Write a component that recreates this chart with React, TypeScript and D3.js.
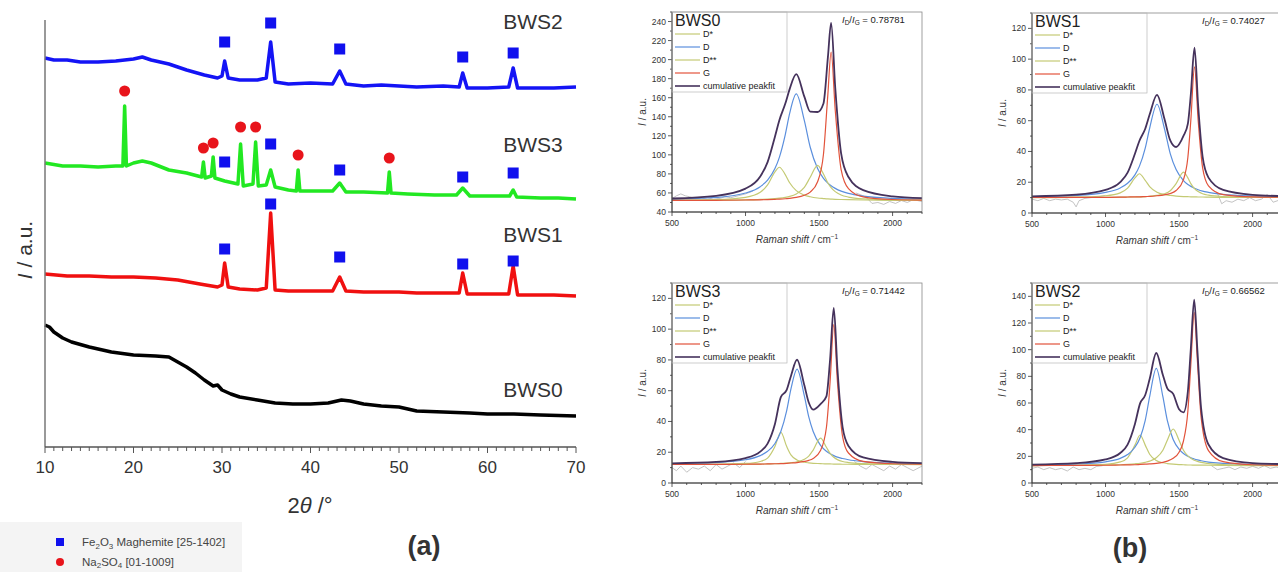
import React from "react";
import * as d3 from "d3";

// ---------- XRD (panel a): [2theta, intensity a.u. incl. stack offset] ----------
const bws2Xrd = [
  [10, 389], [11, 387], [12.5, 387], [14, 385], [16, 385], [18, 386], [20, 388], [21, 390], [22, 387],
  [24, 383], [26, 377], [28, 372], [29.5, 369], [30, 371], [30.3, 386], [30.7, 369], [32, 367], [34, 367],
  [35, 369], [35.5, 405], [36, 365], [37.5, 363], [40, 364], [42.5, 363], [43.3, 376], [44, 363], [46, 361],
  [48, 362], [50, 361], [52, 360], [55, 361], [56.8, 360], [57.2, 374], [57.7, 359], [60, 359], [62.4, 360],
  [62.9, 379], [63.4, 359], [65, 359], [67.5, 359], [70, 360],
];
const bws3Xrd = [
  [10, 284], [12, 281], [14, 281], [16, 280], [18, 281], [18.8, 281], [19, 341], [19.2, 281], [20, 284],
  [21, 286], [22, 284], [24, 277], [26, 274], [27.7, 270], [27.9, 285], [28.1, 269], [28.8, 271], [29, 290],
  [29.2, 269], [30.3, 266], [31.8, 263], [32.1, 303], [32.4, 261], [33.5, 263], [33.8, 305], [34.1, 261],
  [35, 262], [35.5, 277], [36, 260], [37.5, 257], [38.4, 256], [38.6, 277], [38.8, 256], [40, 256],
  [42.5, 256], [43.3, 264], [44, 255], [46, 255], [48.7, 254], [48.9, 275], [49.1, 254], [51, 253],
  [54, 252], [56.5, 252], [57.2, 259], [58, 251], [60, 251], [62.5, 251], [62.9, 257], [63.3, 250],
  [66, 249], [68, 249], [70, 248],
];
const bws1Xrd = [
  [10, 173], [12.5, 171], [15, 171], [17.5, 170], [20, 170], [22.5, 169], [25, 167], [27.5, 163],
  [29.5, 160], [30, 162], [30.3, 184], [30.7, 160], [32, 158], [34, 157], [35, 159], [35.5, 234], [36, 157],
  [37.5, 156], [40, 156], [42.5, 156], [43.3, 170], [44, 156], [46, 155], [48, 155], [50, 155], [52, 154],
  [55, 154], [56.8, 154], [57.2, 174], [57.7, 153], [60, 153], [62.4, 153], [62.9, 181], [63.4, 152],
  [65, 152], [67.5, 152], [70, 151],
];
const bws0Xrd = [
  [10, 122], [10.5, 120], [11, 115], [12, 109], [13, 105], [15, 100], [17.5, 95], [20, 92], [22.5, 91],
  [24, 90], [25, 85], [26, 80], [27, 74], [28, 67], [29, 61], [29.5, 62], [30, 57], [31, 53], [32, 50],
  [34, 47], [36, 44], [38, 43], [40, 43], [42, 44], [43.5, 47], [44.5, 46], [46, 43], [48, 41], [50, 40],
  [52, 36], [55, 35], [58, 34], [60, 33], [63, 33], [66, 32], [70, 31],
];

const maghemitePeaks = [30.3, 35.5, 43.3, 57.2, 62.9];
const maghemiteMarkBWS2 = [405, 424, 398, 390, 394];
const maghemiteMarkBWS3 = [285, 303, 277, 270, 274];
const maghemiteMarkBWS1 = [198, 243, 190, 183, 186];
const sulfatePeaks = [19.0, 27.9, 29.0, 32.1, 33.8, 38.6, 48.9];
const sulfateMarkBWS3 = [356, 299, 304, 320, 320, 292, 289];

const xrdSamples = [
  { name: "BWS2", data: bws2Xrd, color: "#1414f5", labelAt: 418 },
  { name: "BWS3", data: bws3Xrd, color: "#22e822", labelAt: 295 },
  { name: "BWS1", data: bws1Xrd, color: "#f01010", labelAt: 205 },
  { name: "BWS0", data: bws0Xrd, color: "#000000", labelAt: 50 },
];
const twoThetaTicks = [10, 20, 30, 40, 50, 60, 70];

// ---------- Raman (panel b) ----------
const shift0 = [500, 800, 1000, 1100, 1150, 1200, 1230, 1270, 1300, 1345, 1400, 1440, 1490, 1530, 1560, 1582, 1610, 1650, 1700, 1800, 2000, 2200];
const bws0DStar = [52.4, 53.0, 55.4, 60.7, 68.4, 82.2, 87.0, 79.3, 70.7, 62.4, 57.7, 56.0, 54.7, 54.1, 53.7, 53.5, 53.3, 53.1, 52.9, 52.6, 52.3, 52.2];
const bws0D = [53.4, 55.3, 59.9, 66.6, 73.5, 85.6, 97.4, 121.0, 143.5, 164.0, 135.9, 108.0, 85.6, 75.4, 70.3, 67.5, 64.8, 61.9, 59.5, 56.7, 54.3, 53.4];
const bws0DStar2 = [52.2, 52.4, 52.7, 53.2, 53.5, 54.0, 54.5, 55.4, 56.4, 59.0, 65.9, 76.5, 89.0, 79.9, 70.5, 65.6, 61.4, 57.9, 55.7, 53.8, 52.7, 52.4];
const bws0G = [52.2, 52.3, 52.6, 52.8, 53.0, 53.3, 53.5, 53.9, 54.4, 55.3, 57.6, 60.9, 71.7, 100.6, 163.8, 208.0, 147.1, 84.6, 64.6, 55.9, 53.1, 52.5];
const bws0Raw = [
  [500, 54], [530, 57], [560, 59], [590, 57], [620, 56], [660, 54], [700, 55], [740, 53], [780, 55], [820, 54],
  [860, 56], [900, 55], [950, 57], [1000, 59], [1050, 62], [1060, NaN],
  [1750, 60], [1800, 57], [1830, 54], [1860, 49], [1900, 50], [1940, 48], [1980, 51], [2020, 49], [2060, 52],
  [2100, 50], [2140, 53], [2200, 51],
];

const shift1 = [500, 800, 1000, 1100, 1150, 1200, 1230, 1270, 1300, 1350, 1400, 1440, 1480, 1530, 1560, 1580, 1605, 1630, 1660, 1700, 1800, 2000, 2200];
const bws1DStar = [10.1, 10.3, 11.2, 13.1, 16.2, 22.8, 25.5, 21.2, 17.2, 13.5, 12.0, 11.4, 11.0, 10.7, 10.6, 10.5, 10.5, 10.4, 10.4, 10.3, 10.2, 10.1, 10.1];
const bws1D = [10.6, 11.4, 13.4, 16.3, 19.3, 24.8, 30.3, 42.2, 55.1, 70.7, 55.1, 38.6, 28.2, 21.1, 18.5, 17.3, 16.1, 15.1, 14.2, 13.4, 12.1, 11.0, 10.6];
const bws1DStar2 = [10.0, 10.1, 10.2, 10.3, 10.3, 10.4, 10.5, 10.7, 10.9, 11.4, 12.5, 14.5, 19.1, 26.6, 22.8, 19.1, 15.8, 13.9, 12.5, 11.6, 10.7, 10.2, 10.1];
const bws1G = [10.1, 10.1, 10.2, 10.3, 10.4, 10.5, 10.5, 10.7, 10.8, 11.2, 11.8, 12.7, 14.6, 21.7, 36.2, 60.2, 95.0, 60.2, 29.5, 17.7, 12.0, 10.5, 10.2];
const bws1Raw = [
  [500, 9], [540, 8], [580, 9.5], [620, 8], [660, 9], [700, 8.5], [740, 9], [780, 7], [800, 4], [820, 8],
  [860, 9.5], [900, 10], [950, 10.5], [1000, 11.5], [1010, NaN],
  [1760, 13], [1790, 6], [1820, 8], [1860, 7], [1900, 9], [1940, 8], [1980, 10], [2020, 8], [2060, 9],
  [2100, 12], [2140, 7], [2200, 9],
];

const shift3 = [500, 800, 1000, 1100, 1150, 1200, 1240, 1280, 1310, 1350, 1400, 1430, 1460, 1510, 1550, 1575, 1600, 1625, 1660, 1700, 1800, 2000, 2200];
const bws3DStar = [12.1, 12.2, 12.7, 14.0, 16.2, 23.7, 33.0, 23.7, 18.1, 15.0, 13.5, 13.1, 12.8, 12.6, 12.4, 12.4, 12.3, 12.3, 12.2, 12.2, 12.1, 12.1, 12.0];
const bws3D = [12.5, 13.3, 15.1, 17.8, 20.6, 25.7, 33.5, 47.1, 61.6, 74.0, 56.6, 43.0, 33.5, 24.4, 20.6, 19.0, 17.8, 16.8, 15.9, 15.1, 13.9, 12.9, 12.5];
const bws3DStar2 = [12.1, 12.1, 12.2, 12.3, 12.4, 12.5, 12.7, 12.9, 13.2, 13.8, 15.4, 17.5, 21.4, 29.2, 23.2, 19.2, 16.7, 15.2, 14.0, 13.3, 12.6, 12.2, 12.1];
const bws3G = [12.1, 12.1, 12.2, 12.3, 12.4, 12.5, 12.6, 12.8, 13.0, 13.3, 14.0, 14.7, 16.0, 21.1, 36.1, 65.7, 103.0, 65.7, 30.2, 19.5, 14.0, 12.5, 12.3];
const bws3Raw = [
  [500, 10], [530, 8], [560, 11], [600, 7], [640, 10], [680, 9], [720, 11], [760, 8], [800, 12], [840, 9],
  [880, 11], [920, 13], [960, 10], [1000, 14], [1010, NaN],
  [1740, 14], [1780, 11], [1820, 9], [1860, 12], [1900, 10], [1940, 8], [1980, 11], [2020, 9], [2060, 12],
  [2100, 10], [2140, 8], [2200, 11],
];

const shift2 = [500, 800, 1000, 1100, 1150, 1200, 1235, 1270, 1300, 1345, 1390, 1420, 1460, 1500, 1530, 1560, 1580, 1603, 1625, 1650, 1700, 1800, 2000, 2200];
const bws2DStar = [13.1, 13.3, 14.0, 15.8, 18.9, 28.4, 36.0, 28.4, 21.6, 16.9, 15.2, 14.6, 14.1, 13.8, 13.7, 13.5, 13.5, 13.4, 13.4, 13.4, 13.3, 13.2, 13.1, 13.1];
const bws2D = [13.5, 14.2, 15.9, 18.5, 21.3, 26.8, 34.0, 47.0, 64.7, 86.0, 64.7, 47.0, 32.7, 25.4, 22.1, 20.0, 18.9, 18.0, 17.3, 16.7, 15.7, 14.7, 13.8, 13.5];
const bws2DStar2 = [13.1, 13.2, 13.5, 13.7, 14.0, 14.4, 14.8, 15.5, 16.4, 18.9, 24.6, 32.0, 40.5, 32.0, 24.6, 20.3, 18.5, 17.1, 16.2, 15.5, 14.6, 13.8, 13.3, 13.2];
const bws2G = [13.1, 13.2, 13.3, 13.5, 13.6, 13.7, 13.9, 14.1, 14.3, 14.7, 15.5, 16.4, 18.5, 23.1, 31.5, 54.0, 88.8, 128.0, 91.1, 49.4, 24.3, 16.0, 13.7, 13.4];
const bws2Raw = [
  [500, 11], [540, 12], [580, 10], [620, 11.5], [660, 10], [700, 11], [740, 9], [780, 12], [820, 10],
  [860, 11], [900, 10], [940, 12.5], [980, 13], [990, NaN],
  [1720, 13], [1760, 10], [1800, 11], [1840, 12], [1880, 10], [1920, 12], [1960, 11], [2000, 12.5],
  [2040, 11], [2080, 13], [2120, 11], [2160, 12], [2200, 11],
];

const ramanPanels = [
  { name: "BWS0", ratio: "0.78781", left: 672, top: 12, yMin: 40, yMax: 250, yTop: 240, base: 52,
    shift: shift0, dStar: bws0DStar, d: bws0D, dStar2: bws0DStar2, g: bws0G, raw: bws0Raw },
  { name: "BWS1", ratio: "0.74027", left: 1032, top: 13, yMin: 0, yMax: 130, yTop: 120, base: 10,
    shift: shift1, dStar: bws1DStar, d: bws1D, dStar2: bws1DStar2, g: bws1G, raw: bws1Raw },
  { name: "BWS3", ratio: "0.71442", left: 672, top: 283, yMin: 0, yMax: 130, yTop: 120, base: 12,
    shift: shift3, dStar: bws3DStar, d: bws3D, dStar2: bws3DStar2, g: bws3G, raw: bws3Raw },
  { name: "BWS2", ratio: "0.66562", left: 1032, top: 283, yMin: 0, yMax: 150, yTop: 140, base: 13,
    shift: shift2, dStar: bws2DStar, d: bws2D, dStar2: bws2DStar2, g: bws2G, raw: bws2Raw },
];
const ramanTicks = [500, 1000, 1500, 2000];
const fitLabels = ["D*", "D", "D**", "G", "cumulative peakfit"];
const fitColors = ["#c4ca74", "#5b8fdd", "#c4ca74", "#e2533b", "#45325c"];

const FONT = "'Liberation Sans', Arial, sans-serif";

const xrdX = d3.scaleLinear().domain([10, 70]).range([45, 576]);
const xrdY = d3.scaleLinear().domain([0, 427]).range([447, 20]);

const RamanPanel = ({ p }) => {
  const w = 250;
  const h = 200;
  const x = d3.scaleLinear().domain([500, 2200]).range([p.left, p.left + w]);
  const y = d3.scaleLinear().domain([p.yMin, p.yMax]).range([p.top + h, p.top]);
  const cumulative = p.shift.map(
    (_, i) => p.base + (p.dStar[i] - p.base) + (p.d[i] - p.base) + (p.dStar2[i] - p.base) + (p.g[i] - p.base)
  );
  const line = d3
    .line()
    .x((v, i) => x(p.shift[i]))
    .y((v) => y(v))
    .curve(d3.curveMonotoneX);
  const rawLine = d3
    .line()
    .defined((d) => !isNaN(d[1]))
    .x((d) => x(d[0]))
    .y((d) => y(d[1]));
  const series = [p.dStar, p.d, p.dStar2, p.g, cumulative];
  const yMajor = d3.range(p.yMin, p.yTop + 1, 20);
  const yMinor = d3.range(p.yMin, p.yMax + 0.1, 10);
  const xMinor = d3.range(500, 2201, 100);
  const bottom = p.top + h;

  return (
    <g fontFamily={FONT}>
      <path d={rawLine(p.raw)} fill="none" stroke="#b4b4b4" strokeWidth={0.8} />
      {series.map((s, i) => (
        <path key={i} d={line(s)} fill="none" stroke={fitColors[i]} strokeWidth={i === 4 ? 1.8 : 1.2} />
      ))}
      <rect x={p.left} y={p.top} width={w} height={h} fill="none" stroke="#888" strokeWidth={0.8} />
      <line x1={p.left} x2={p.left} y1={p.top} y2={bottom} stroke="#333" strokeWidth={1} />
      <line x1={p.left} x2={p.left + w} y1={bottom} y2={bottom} stroke="#333" strokeWidth={1} />
      {yMinor.map((t) => (
        <line key={"ym" + t} x1={p.left} x2={p.left - (yMajor.includes(t) ? 4 : 2)} y1={y(t)} y2={y(t)} stroke="#333" strokeWidth={0.8} />
      ))}
      {yMajor.map((t) => (
        <text key={"yl" + t} x={p.left - 6} y={y(t) + 3} fontSize={8.5} textAnchor="end" fill="#333">{t}</text>
      ))}
      {xMinor.map((t) => (
        <line key={"xm" + t} x1={x(t)} x2={x(t)} y1={bottom} y2={bottom + (ramanTicks.includes(t) ? 4 : 2)} stroke="#333" strokeWidth={0.8} />
      ))}
      {ramanTicks.map((t) => (
        <text key={"xl" + t} x={x(t)} y={bottom + 14} fontSize={8.5} textAnchor="middle" fill="#333">{t}</text>
      ))}
      <text x={p.left + w / 2} y={bottom + 31} fontSize={10} textAnchor="middle" fill="#333">
        <tspan fontStyle="italic">Raman shift / </tspan>cm<tspan dy={-4} fontSize={6.5}>−1</tspan>
      </text>
      <text transform={`translate(${p.left - 26},${p.top + h / 2}) rotate(-90)`} fontSize={10} textAnchor="middle" fill="#333">
        <tspan fontStyle="italic">I</tspan> / a.u.
      </text>
      <rect x={p.left} y={p.top} width={115} height={80} fill="none" stroke="#b8b8b8" strokeWidth={0.7} />
      <text x={p.left + 3} y={p.top + 13.5} fontSize={16} fill="#222">{p.name}</text>
      {fitLabels.map((lab, i) => (
        <g key={lab}>
          <line x1={p.left + 3} x2={p.left + 28} y1={p.top + 22 + i * 13} y2={p.top + 22 + i * 13} stroke={fitColors[i]} strokeWidth={i === 4 ? 1.6 : 1.2} />
          <text x={p.left + 31} y={p.top + 25.3 + i * 13} fontSize={9} fill="#222">{lab}</text>
        </g>
      ))}
      <text x={p.left + 170} y={p.top + 11} fontSize={9.5} fill="#222">
        <tspan fontStyle="italic">I</tspan>
        <tspan dy={2} fontSize={6.5}>D</tspan>
        <tspan dy={-2}>/</tspan>
        <tspan fontStyle="italic">I</tspan>
        <tspan dy={2} fontSize={6.5}>G</tspan>
        <tspan dy={-2}> = {p.ratio}</tspan>
      </text>
    </g>
  );
};

const App = () => {
  const xrdLine = d3
    .line()
    .x((d) => xrdX(d[0]))
    .y((d) => xrdY(d[1]));
  const minorTicks = d3.range(10, 70.1, 1);
  const maghemiteSets = [maghemiteMarkBWS2, maghemiteMarkBWS3, maghemiteMarkBWS1];

  return (
    <svg width={1278} height={572} style={{ position: "absolute", left: 0, top: 0, background: "#fff" }}>
      <rect width={1278} height={572} fill="#fff" />
      {/* panel (a) */}
      <g fontFamily={FONT}>
        {xrdSamples.map((s) => (
          <path key={s.name} d={xrdLine(s.data)} fill="none" stroke={s.color} strokeWidth={3.5} strokeLinejoin="round" />
        ))}
        {xrdSamples.map((s) => (
          <text key={"l" + s.name} x={533} y={xrdY(s.labelAt)} fontSize={21} textAnchor="middle" fill="#333">{s.name}</text>
        ))}
        {maghemiteSets.map((set, k) =>
          set.map((v, i) => (
            <rect key={k + "-" + i} x={xrdX(maghemitePeaks[i]) - 5.5} y={xrdY(v) - 5.5} width={11} height={11} fill="#1010ee" />
          ))
        )}
        {sulfateMarkBWS3.map((v, i) => (
          <circle key={"c" + i} cx={xrdX(sulfatePeaks[i])} cy={xrdY(v)} r={5.5} fill="#e8141b" />
        ))}
        <line x1={45} x2={45} y1={20} y2={447} stroke="#777" strokeWidth={1.5} />
        <line x1={45} x2={576} y1={447} y2={447} stroke="#555" strokeWidth={1.5} />
        {minorTicks.map((t) => (
          <line key={t} x1={xrdX(t)} x2={xrdX(t)} y1={447} y2={447 + (t % 10 === 0 ? 6 : 4)} stroke="#555" strokeWidth={1} />
        ))}
        {twoThetaTicks.map((t) => (
          <text key={"t" + t} x={xrdX(t)} y={473} fontSize={17} textAnchor="middle" fill="#333">{t}</text>
        ))}
        <text x={310} y={513} fontSize={22} textAnchor="middle" fill="#333">
          2<tspan fontStyle="italic">θ</tspan> /°
        </text>
        <text transform="translate(32,250) rotate(-90)" fontSize={21} textAnchor="middle" fill="#333">
          <tspan fontStyle="italic">I</tspan> / a.u.
        </text>
        <rect x={0} y={522} width={242} height={50} fill="#f4f4f4" />
        <rect x={56} y={538} width={8} height={8} fill="#1010ee" />
        <text x={82} y={546} fontSize={11.5} fill="#444">
          Fe<tspan dy={3} fontSize={8}>2</tspan><tspan dy={-3}>O</tspan><tspan dy={3} fontSize={8}>3</tspan>
          <tspan dy={-3}> Maghemite [25-1402]</tspan>
        </text>
        <circle cx={60} cy={562} r={4} fill="#e8141b" />
        <text x={82} y={566} fontSize={11.5} fill="#444">
          Na<tspan dy={2} fontSize={8}>2</tspan><tspan dy={-2}>SO</tspan><tspan dy={2} fontSize={8}>4</tspan>
          <tspan dy={-2}> [01-1009]</tspan>
        </text>
        <text x={424} y={555} fontSize={27} fontWeight="bold" textAnchor="middle" fill="#333">(a)</text>
      </g>
      {/* panel (b) */}
      {ramanPanels.map((p) => (
        <RamanPanel key={p.name} p={p} />
      ))}
      <text x={1130} y={557} fontSize={27} fontWeight="bold" textAnchor="middle" fill="#333" fontFamily={FONT}>(b)</text>
    </svg>
  );
};

export default App;
